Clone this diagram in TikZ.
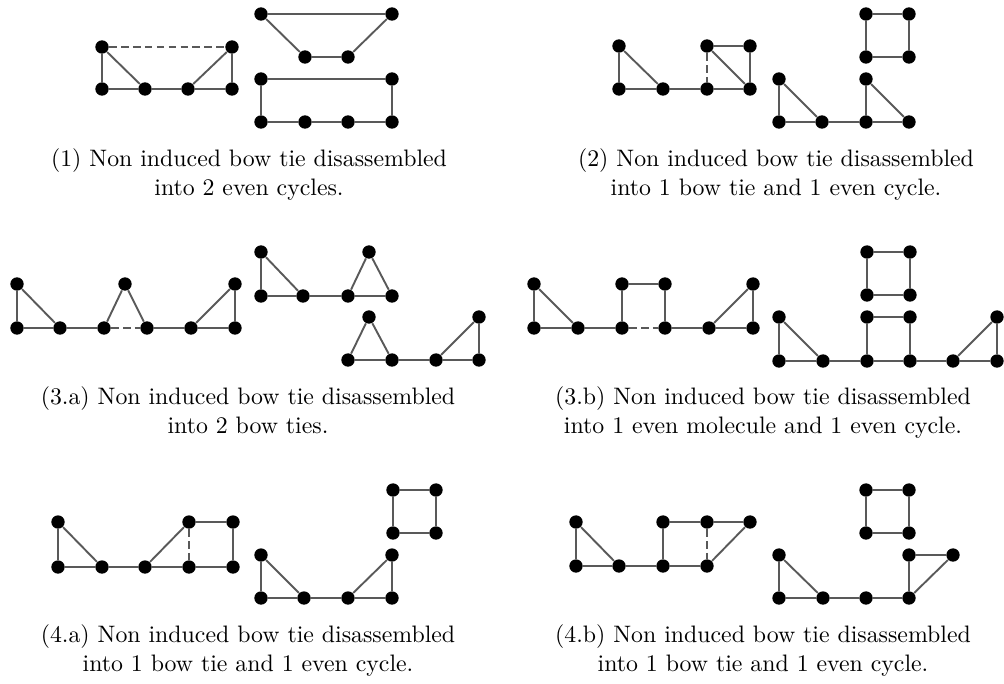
\documentclass[tikz,border=0pt]{standalone}
\usepackage{tikz}

\tikzset{
  vtx/.style={circle, fill=black, inner sep=0pt, minimum size=5.6pt},
  edge/.style={draw=black!65, line width=0.8pt},
  gone/.style={edge, dash pattern=on 3.2pt off 1.8pt},
  capt/.style={align=center, anchor=base, font=\normalsize}
}

\begin{document}
\begin{tikzpicture}[x=0.42pt, y=-0.42pt]
  \useasboundingbox (0,0) rectangle (1004,683);
  % (1)
  \node[vtx] (p1a) at (102,47) {}; \node[vtx] (p1b) at (232,47) {};
  \node[vtx] (p1c) at (102,89) {}; \node[vtx] (p1d) at (145,89) {};
  \node[vtx] (p1e) at (188,89) {}; \node[vtx] (p1f) at (232,89) {};
  \draw[edge] (p1a) -- (p1c) (p1a) -- (p1d) (p1c) -- (p1d) (p1d) -- (p1e)
    (p1e) -- (p1f) (p1e) -- (p1b) (p1b) -- (p1f);
  \draw[gone] (p1a) -- (p1b);
  \node[vtx] (q1a) at (261,14) {}; \node[vtx] (q1b) at (392,14) {};
  \node[vtx] (q1c) at (305,57) {}; \node[vtx] (q1d) at (348,57) {};
  \draw[edge] (q1a) -- (q1b) (q1a) -- (q1c) (q1c) -- (q1d) (q1d) -- (q1b);
  \node[vtx] (r1a) at (261,79) {}; \node[vtx] (r1b) at (392,79) {};
  \node[vtx] (r1c) at (261,122) {}; \node[vtx] (r1d) at (305,122) {};
  \node[vtx] (r1e) at (348,122) {}; \node[vtx] (r1f) at (392,122) {};
  \draw[edge] (r1a) -- (r1b) (r1a) -- (r1c) (r1b) -- (r1f) (r1c) -- (r1d)
    (r1d) -- (r1e) (r1e) -- (r1f);
  \node[capt] (c1) at (249,195) {(1) Non induced bow tie disassembled\\into 2 even cycles.};
  % (2)
  \node[vtx] (p2a) at (619,46) {}; \node[vtx] (p2b) at (619,89) {};
  \node[vtx] (p2c) at (663,89) {}; \node[vtx] (p2d) at (707,46) {};
  \node[vtx] (p2e) at (707,89) {}; \node[vtx] (p2f) at (750,46) {};
  \node[vtx] (p2g) at (750,89) {};
  \draw[edge] (p2a) -- (p2b) (p2a) -- (p2c) (p2b) -- (p2c) (p2c) -- (p2e)
    (p2e) -- (p2g) (p2d) -- (p2f) (p2d) -- (p2g) (p2f) -- (p2g);
  \draw[gone] (p2d) -- (p2e);
  \node[vtx] (q2a) at (866,14) {}; \node[vtx] (q2b) at (909,14) {};
  \node[vtx] (q2c) at (866,57) {}; \node[vtx] (q2d) at (909,57) {};
  \draw[edge] (q2a) -- (q2b) (q2b) -- (q2d) (q2d) -- (q2c) (q2c) -- (q2a);
  \node[vtx] (r2a) at (779,79) {}; \node[vtx] (r2b) at (779,122) {};
  \node[vtx] (r2c) at (822,122) {}; \node[vtx] (r2d) at (866,122) {};
  \node[vtx] (r2e) at (866,79) {}; \node[vtx] (r2f) at (909,122) {};
  \draw[edge] (r2a) -- (r2b) (r2a) -- (r2c) (r2b) -- (r2c) (r2c) -- (r2d)
    (r2d) -- (r2f) (r2e) -- (r2d) (r2e) -- (r2f);
  \node[capt] (c2) at (776,195) {(2) Non induced bow tie disassembled\\into 1 bow tie and 1 even cycle.};
  % (3.a)
  \node[vtx] (p3a) at (17,284) {}; \node[vtx] (p3b) at (17,328) {};
  \node[vtx] (p3c) at (60,328) {}; \node[vtx] (p3d) at (104,328) {};
  \node[vtx] (p3e) at (125,284) {}; \node[vtx] (p3f) at (147,328) {};
  \node[vtx] (p3g) at (191,328) {}; \node[vtx] (p3h) at (235,284) {};
  \node[vtx] (p3i) at (235,328) {};
  \draw[edge] (p3a) -- (p3b) (p3a) -- (p3c) (p3b) -- (p3c) (p3c) -- (p3d)
    (p3d) -- (p3e) (p3e) -- (p3f) (p3f) -- (p3g) (p3g) -- (p3i) (p3g) -- (p3h)
    (p3h) -- (p3i);
  \draw[gone] (p3d) -- (p3f);
  \node[vtx] (q3a) at (261,252) {}; \node[vtx] (q3b) at (261,296) {};
  \node[vtx] (q3c) at (303,296) {}; \node[vtx] (q3d) at (348,296) {};
  \node[vtx] (q3e) at (369,252) {}; \node[vtx] (q3f) at (392,296) {};
  \draw[edge] (q3a) -- (q3b) (q3a) -- (q3c) (q3b) -- (q3c) (q3c) -- (q3d)
    (q3d) -- (q3f) (q3d) -- (q3e) (q3e) -- (q3f);
  \node[vtx] (r3a) at (348,360) {}; \node[vtx] (r3b) at (369,317) {};
  \node[vtx] (r3c) at (392,360) {}; \node[vtx] (r3d) at (436,360) {};
  \node[vtx] (r3e) at (479,317) {}; \node[vtx] (r3f) at (479,360) {};
  \draw[edge] (r3a) -- (r3b) (r3b) -- (r3c) (r3a) -- (r3c) (r3c) -- (r3d)
    (r3d) -- (r3f) (r3d) -- (r3e) (r3e) -- (r3f);
  \node[capt] (c3a) at (248,433) {(3.a) Non induced bow tie disassembled\\into 2 bow ties.};
  % (3.b)
  \node[vtx] (p4a) at (534,284) {}; \node[vtx] (p4b) at (534,328) {};
  \node[vtx] (p4c) at (578,328) {}; \node[vtx] (p4d) at (622,284) {};
  \node[vtx] (p4e) at (622,328) {}; \node[vtx] (p4f) at (665,284) {};
  \node[vtx] (p4g) at (665,328) {}; \node[vtx] (p4h) at (709,328) {};
  \node[vtx] (p4i) at (753,284) {}; \node[vtx] (p4j) at (753,328) {};
  \draw[edge] (p4a) -- (p4b) (p4a) -- (p4c) (p4b) -- (p4c) (p4c) -- (p4e)
    (p4d) -- (p4e) (p4d) -- (p4f) (p4f) -- (p4g) (p4g) -- (p4h) (p4h) -- (p4j)
    (p4h) -- (p4i) (p4i) -- (p4j);
  \draw[gone] (p4e) -- (p4g);
  \node[vtx] (q4a) at (867,252) {}; \node[vtx] (q4b) at (910,252) {};
  \node[vtx] (q4c) at (867,295) {}; \node[vtx] (q4d) at (910,295) {};
  \draw[edge] (q4a) -- (q4b) (q4b) -- (q4d) (q4d) -- (q4c) (q4c) -- (q4a);
  \node[vtx] (r4a) at (779,317) {}; \node[vtx] (r4b) at (779,361) {};
  \node[vtx] (r4c) at (823,361) {}; \node[vtx] (r4d) at (867,317) {};
  \node[vtx] (r4e) at (867,361) {}; \node[vtx] (r4f) at (910,317) {};
  \node[vtx] (r4g) at (910,361) {}; \node[vtx] (r4h) at (953,361) {};
  \node[vtx] (r4i) at (997,317) {}; \node[vtx] (r4j) at (997,361) {};
  \draw[edge] (r4a) -- (r4b) (r4a) -- (r4c) (r4b) -- (r4c) (r4c) -- (r4e)
    (r4e) -- (r4g) (r4g) -- (r4h) (r4h) -- (r4j) (r4d) -- (r4e) (r4d) -- (r4f)
    (r4f) -- (r4g) (r4h) -- (r4i) (r4i) -- (r4j);
  \node[capt] (c3b) at (763,433) {(3.b) Non induced bow tie disassembled\\into 1 even molecule and 1 even cycle.};
  % (4.a)
  \node[vtx] (p5a) at (58,522) {}; \node[vtx] (p5b) at (58,567) {};
  \node[vtx] (p5c) at (102,567) {}; \node[vtx] (p5d) at (145,567) {};
  \node[vtx] (p5e) at (189,522) {}; \node[vtx] (p5f) at (189,567) {};
  \node[vtx] (p5g) at (233,522) {}; \node[vtx] (p5h) at (233,567) {};
  \draw[edge] (p5a) -- (p5b) (p5a) -- (p5c) (p5b) -- (p5c) (p5c) -- (p5d)
    (p5d) -- (p5f) (p5f) -- (p5h) (p5d) -- (p5e) (p5e) -- (p5g) (p5g) -- (p5h);
  \draw[gone] (p5e) -- (p5f);
  \node[vtx] (q5a) at (393,490) {}; \node[vtx] (q5b) at (436,490) {};
  \node[vtx] (q5c) at (393,533) {}; \node[vtx] (q5d) at (436,533) {};
  \draw[edge] (q5a) -- (q5b) (q5b) -- (q5d) (q5d) -- (q5c) (q5c) -- (q5a);
  \node[vtx] (r5a) at (261,555) {}; \node[vtx] (r5b) at (261,598) {};
  \node[vtx] (r5c) at (304,598) {}; \node[vtx] (r5d) at (348,598) {};
  \node[vtx] (r5e) at (392,555) {}; \node[vtx] (r5f) at (392,598) {};
  \draw[edge] (r5a) -- (r5b) (r5a) -- (r5c) (r5b) -- (r5c) (r5c) -- (r5d)
    (r5d) -- (r5f) (r5d) -- (r5e) (r5e) -- (r5f);
  \node[capt] (c4a) at (248,671) {(4.a) Non induced bow tie disassembled\\into 1 bow tie and 1 even cycle.};
  % (4.b)
  \node[vtx] (p6a) at (576,522) {}; \node[vtx] (p6b) at (576,566) {};
  \node[vtx] (p6c) at (619,566) {}; \node[vtx] (p6d) at (663,522) {};
  \node[vtx] (p6e) at (663,566) {}; \node[vtx] (p6f) at (707,522) {};
  \node[vtx] (p6g) at (707,566) {}; \node[vtx] (p6h) at (750,522) {};
  \draw[edge] (p6a) -- (p6b) (p6a) -- (p6c) (p6b) -- (p6c) (p6c) -- (p6e)
    (p6e) -- (p6g) (p6d) -- (p6e) (p6d) -- (p6f) (p6f) -- (p6h) (p6g) -- (p6h);
  \draw[gone] (p6f) -- (p6g);
  \node[vtx] (q6a) at (866,490) {}; \node[vtx] (q6b) at (909,490) {};
  \node[vtx] (q6c) at (866,533) {}; \node[vtx] (q6d) at (909,533) {};
  \draw[edge] (q6a) -- (q6b) (q6b) -- (q6d) (q6d) -- (q6c) (q6c) -- (q6a);
  \node[vtx] (r6a) at (779,555) {}; \node[vtx] (r6b) at (779,598) {};
  \node[vtx] (r6c) at (823,598) {}; \node[vtx] (r6d) at (866,598) {};
  \node[vtx] (r6e) at (909,555) {}; \node[vtx] (r6f) at (909,598) {};
  \node[vtx] (r6g) at (953,555) {};
  \draw[edge] (r6a) -- (r6b) (r6a) -- (r6c) (r6b) -- (r6c) (r6c) -- (r6d)
    (r6d) -- (r6f) (r6e) -- (r6f) (r6e) -- (r6g) (r6f) -- (r6g);
  \node[capt] (c4b) at (763,671) {(4.b) Non induced bow tie disassembled\\into 1 bow tie and 1 even cycle.};
\end{tikzpicture}
\end{document}
